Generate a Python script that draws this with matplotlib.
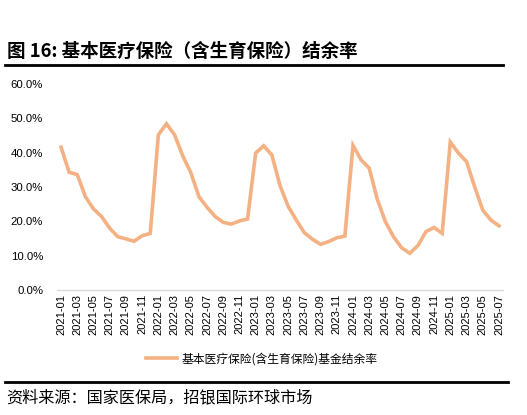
import matplotlib
matplotlib.use("Agg")
import matplotlib.pyplot as plt
from matplotlib.lines import Line2D
from matplotlib.ticker import FuncFormatter

plt.rcParams['font.family'] = ['Noto Sans CJK SC', 'DejaVu Sans']

# monthly labels 2021-01 .. 2025-07
months = ["%d-%02d" % (y, m) for y in range(2021, 2026) for m in range(1, 13)][:55]

# balance rate (%)
rate = [41.6, 34.3, 33.6, 27.2, 23.6, 21.4, 18.0, 15.5, 14.9, 14.2, 15.8, 16.5,
        45.2, 48.4, 45.2, 39.1, 34.2, 27.2, 24.1, 21.4, 19.7, 19.2, 20.1, 20.7,
        39.9, 42.0, 39.3, 30.4, 24.4, 20.4, 16.7, 14.8, 13.3, 14.1, 15.2, 15.7,
        42.1, 37.9, 35.5, 26.4, 19.9, 15.5, 12.3, 10.7, 12.9, 17.0, 18.2, 16.5,
        43.1, 39.9, 37.4, 30.1, 23.3, 20.4, 18.7]

title = "图 16: 基本医疗保险（含生育保险）结余率"
series_name = "基本医疗保险(含生育保险)基金结余率"
source = "资料来源：国家医保局，招银国际环球市场"

W, H = 527, 415
fig = plt.figure(figsize=(W / 100, H / 100), dpi=100)
ax = fig.add_axes([57 / W, 1 - 290 / H, (503 - 57) / W, (290 - 84) / H])

x = list(range(len(months)))
line, = ax.plot(x, rate, color="#F4B183", lw=2.6, solid_joinstyle="miter")

ax.set_xlim(-0.5, len(months) - 0.5)
ax.set_ylim(0, 60)
ax.set_yticks(range(0, 61, 10))
ax.yaxis.set_major_formatter(FuncFormatter(lambda v, p: "%.1f%%" % v))
ax.set_xticks(x[::2])
ax.set_xticklabels(months[::2], rotation=90, family="Liberation Sans", fontsize=8)
for lab in ax.get_yticklabels():
    lab.set_family("Liberation Sans")
    lab.set_fontsize(8.2)

for s in ["top", "right", "left"]:
    ax.spines[s].set_visible(False)
ax.spines["bottom"].set_color("#d9d9d9")
ax.spines["bottom"].set_linewidth(1)
ax.tick_params(axis="both", length=0, pad=3, colors="#000000")
ax.tick_params(axis="y", pad=10)

# title + rules
fig.text(7 / W, 1 - 51 / H, title, fontsize=13.3, fontweight="bold", va="center", ha="left")
fig.add_artist(Line2D([5 / W, 503 / W], [1 - 65.5 / H] * 2, color="black", lw=2))
fig.add_artist(Line2D([5 / W, 508 / W], [1 - 382 / H] * 2, color="black", lw=2))
fig.text(6 / W, 1 - 398 / H, source, fontsize=11.6, va="center", ha="left")

fig.legend([line], [series_name], loc="center", bbox_to_anchor=(262 / W, 1 - 359 / H),
           frameon=False, fontsize=8.5, handlelength=2.6, handletextpad=0.4)

fig.savefig("out.png", dpi=100)
